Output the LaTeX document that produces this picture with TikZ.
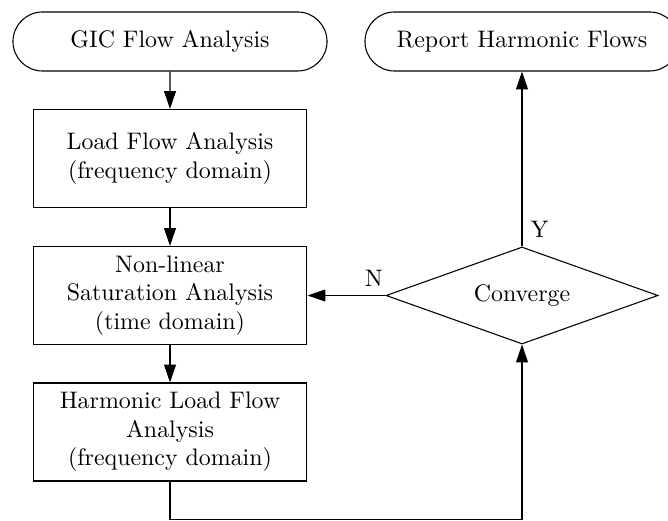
\documentclass[tikz,border=0pt]{standalone}
\usetikzlibrary{shapes.misc,shapes.geometric,arrows.meta}
\begin{document}
\begin{tikzpicture}[x=0.4184pt,y=-0.4184pt,
  line width=0.45pt,
  terminal/.style={draw, rounded rectangle, minimum width=131.4pt, minimum height=24.7pt, inner sep=0pt},
  procbox/.style={draw, rectangle, minimum width=114.6pt, minimum height=41pt, inner sep=0pt, align=center},
  decision/.style={draw, diamond, aspect=2.8, minimum width=113.8pt, minimum height=40.6pt, inner sep=0pt},
  arr/.style={-{Triangle[length=7.5pt,width=5pt]}}]
  \useasboundingbox (0,0) rectangle (668,520);

  % start and end terminals
  \node[terminal] (gic) at (170,41.5) {GIC Flow Analysis};
  \node[terminal] (report) at (522,41.5) {Report Harmonic Flows};

  % process chain
  \node[procbox] (load) at (170,158.5) {Load Flow Analysis\\(frequency domain)};
  \node[procbox] (sat) at (170,295.5) {Non-linear\\Saturation Analysis\\(time domain)};
  \node[procbox] (harm) at (170,432) {Harmonic Load Flow\\Analysis\\(frequency domain)};

  % convergence test
  \node[decision] (conv) at (522,295.5) {Converge};

  % return path along the bottom edge
  \coordinate (turn) at (0,519.5);

  \draw[arr] (gic) -- (load);
  \draw[arr] (load) -- (sat);
  \draw[arr] (sat) -- (harm);
  \draw[arr] (harm.south) -- (harm.south |- turn) -| (conv.south);
  \draw[arr] (conv.west) -- (sat.east) node[pos=0.15, above] {N};
  \draw[arr] (conv.north) -- (report.south) node[pos=0.097, right] {Y};
\end{tikzpicture}
\end{document}
